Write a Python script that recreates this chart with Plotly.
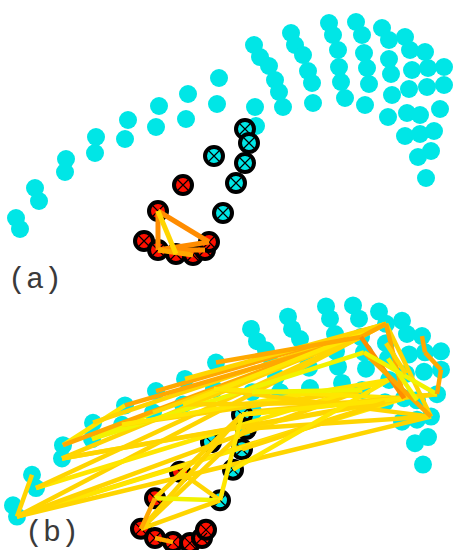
import plotly.graph_objects as go

# ---- point data (shared by both panels) ----
cyan_x = [16, 20, 35, 39, 66, 65, 96, 95, 128, 125, 159, 156, 188, 186, 219, 217, 255, 256,
          254, 260, 269, 275, 279, 283, 291, 295, 303, 308, 312, 313, 329, 333, 338, 339, 341, 345,
          356, 362, 364, 367, 369, 365, 382, 389, 389, 391, 392, 388, 405, 410, 425, 412, 428, 444,
          409, 427, 444, 407, 420, 440, 405, 420, 434, 418, 431, 426]
cyan_y = [32, 21, 62, 49, 91, 78, 113, 97, 130, 111, 144, 123, 156, 131, 172, 146, 143, 124,
          205, 193, 184, 170, 158, 143, 217, 205, 195, 179, 167, 147, 227, 215, 200, 183, 168, 152,
          228, 215, 197, 182, 166, 145, 222, 210, 191, 176, 155, 133, 213, 200, 198, 180, 182, 183,
          161, 163, 165, 137, 135, 141, 114, 116, 119, 93, 99, 72]

xc_x = [245, 249, 245, 236, 214, 223]          # crossed cyan points
xc_y = [121, 107, 87, 67, 94, 37]
xr_x = [183, 158, 144, 158, 176, 193, 205, 209]  # crossed red points
xr_y = [65, 39, 9, 0, -4, -5, 0, 8]

all_x = cyan_x + xc_x + xr_x
all_y = cyan_y + xc_y + xr_y

# ---- edges (indices into all_x/all_y) ----
edges_a = [(73, 79, "dorange"), (73, 75, "dorange"), (75, 79, "dorange"),
           (75, 78, "dorange"), (75, 77, "orange"), (73, 76, "gold")]

edges_b = [
    (2, 1, "gold"), (4, 8, "yellow"), (7, 11, "lemon"),
    (1, 43, "gold"), (1, 47, "gold"), (1, 57, "yellow"), (1, 41, "gold"), (1, 62, "gold"),
    (3, 46, "yellow"), (3, 38, "gold"),
    (5, 43, "gold"), (5, 47, "yellow"), (5, 57, "gold"),
    (4, 43, "orange"), (6, 43, "gold"), (8, 38, "orange"), (10, 43, "orange"),
    (7, 39, "lemon"), (9, 41, "gold"), (9, 46, "yellow"),
    (11, 38, "gold"), (13, 47, "gold"), (13, 43, "yellow"), (15, 62, "gold"), (15, 57, "yellow"),
    (12, 43, "gold"), (14, 38, "orange"), (16, 41, "lemon"), (17, 59, "gold"),
    (66, 59, "gold"), (66, 57, "yellow"), (67, 62, "gold"), (68, 47, "gold"), (69, 46, "yellow"),
    (66, 73, "gold"), (66, 74, "gold"), (67, 74, "gold"), (72, 71, "gold"), (73, 71, "lemon"),
    (74, 71, "gold"), (73, 74, "orange"), (71, 66, "yellow"), (75, 76, "orange"),
    (38, 43, "orange"), (43, 62, "gold"), (43, 57, "orange"), (38, 57, "dorange"),
    (39, 62, "orange"), (39, 59, "lemon"), (50, 52, "orange"), (52, 56, "orange"),
    (56, 59, "orange"), (45, 58, "lemon"), (44, 54, "gold"),
]

palette = {"gold": "#FFD500", "yellow": "#FFE600", "lemon": "#F2F200",
           "orange": "#FFA800", "dorange": "#FF8C00"}

CYAN = "#00E6E6"
RED = "#FF1000"

fig = go.Figure()


def add_panel(xa, ya, edges, lw):
    fig.add_trace(go.Scatter(x=cyan_x, y=cyan_y, mode="markers", xaxis=xa, yaxis=ya,
                             marker=dict(size=18, color=CYAN, line=dict(width=0)),
                             cliponaxis=False, hoverinfo="skip", showlegend=False))
    for px, py, col in [(xc_x, xc_y, CYAN), (xr_x, xr_y, RED)]:
        fig.add_trace(go.Scatter(x=px, y=py, mode="markers", xaxis=xa, yaxis=ya,
                                 marker=dict(size=18, color=col, line=dict(width=4, color="black")),
                                 cliponaxis=False, hoverinfo="skip", showlegend=False))
        fig.add_trace(go.Scatter(x=px, y=py, mode="markers", xaxis=xa, yaxis=ya,
                                 marker=dict(size=10, symbol="x-thin-open", color="black",
                                             line=dict(width=1.2, color="black")),
                                 cliponaxis=False, hoverinfo="skip", showlegend=False))
    for i, j, c in edges:
        fig.add_trace(go.Scatter(x=[all_x[i], all_x[j]], y=[all_y[i], all_y[j]], mode="lines",
                                 xaxis=xa, yaxis=ya, line=dict(color=palette[c], width=lw),
                                 cliponaxis=False, hoverinfo="skip", showlegend=False))


add_panel("x", "y", edges_a, 5)
add_panel("x2", "y2", edges_b, 4.5)

ax = dict(visible=False, showgrid=False, zeroline=False, fixedrange=True)
fig.update_layout(
    width=454, height=550,
    margin=dict(l=0, r=0, t=0, b=0),
    paper_bgcolor="white", plot_bgcolor="white",
    xaxis=dict(ax, domain=[0, 1], range=[0, 454]),
    yaxis=dict(ax, domain=[0.5, 1], range=[-25, 250]),
    xaxis2=dict(ax, domain=[0, 1], range=[3, 457], anchor="y2"),
    yaxis2=dict(ax, domain=[0, 0.5], range=[-11.76, 257.84], anchor="x2"),
    annotations=[
        dict(text="(a)", x=6 / 454, y=1 - 280 / 550, xref="paper", yref="paper",
             xanchor="left", yanchor="middle", showarrow=False,
             font=dict(family="Liberation Mono, Courier New, monospace", size=30, color="#3a3a3a")),
        dict(text="(b)", x=23 / 454, y=1 - 533 / 550, xref="paper", yref="paper",
             xanchor="left", yanchor="middle", showarrow=False,
             font=dict(family="Liberation Mono, Courier New, monospace", size=30, color="#3a3a3a")),
    ],
)

fig.write_html("out.html", config={"displayModeBar": False},
               post_script="document.body.style.margin='0';document.body.style.overflow='hidden';")
